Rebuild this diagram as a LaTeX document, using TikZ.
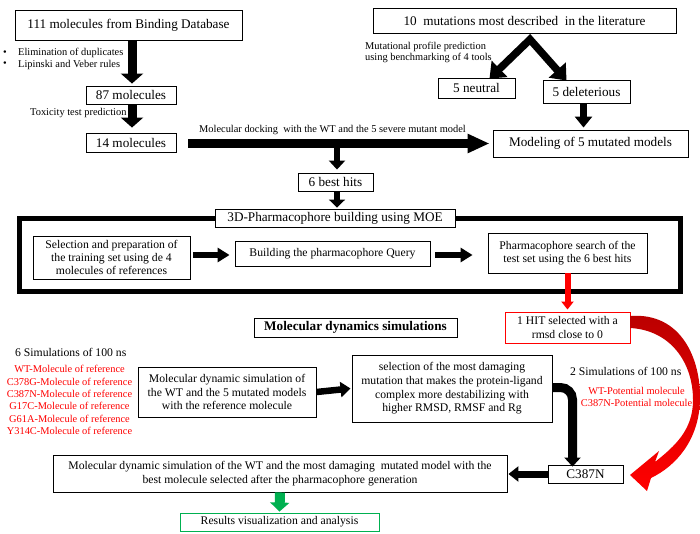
\documentclass[tikz,border=0pt]{standalone}
\usepackage{fontspec}
\setmainfont{Liberation Serif}
\usetikzlibrary{arrows.meta,calc}
\definecolor{myred}{RGB}{255,0,0}
\definecolor{mydarkred}{RGB}{185,0,0}
\definecolor{mygreen}{RGB}{0,176,80}
\newcommand\fbig{\fontsize{13.2pt}{15pt}\selectfont}
\newcommand\fmid{\fontsize{11.7pt}{13.5pt}\selectfont}
\newcommand\fsml{\fontsize{10.4pt}{11.8pt}\selectfont}
\begin{document}
\begin{tikzpicture}[x=1pt,y=-1pt,
  box/.style={draw, line width=0.9pt, fill=white, inner sep=1pt, align=center},
  bigbox/.style={box, font=\fbig},
  midbox/.style={box, font=\fmid},
  arr/.style n args={3}{line width=#1, -{Triangle[width=#2,length=#3]}},
  note/.style={font=\fsml, inner sep=0pt},
]
\useasboundingbox (0,0) rectangle (700,534);

% ---------- top left chain ----------
\node[bigbox, minimum width=227pt, minimum height=30pt] (b111) at (128.5,25) {111 molecules from Binding Database};
\node[bigbox, minimum width=90pt, minimum height=18pt] (b87) at (131,95) {87 molecules};
\node[bigbox, minimum width=90pt, minimum height=19pt] (b14) at (131,142.5) {14 molecules};

\node[note, align=center, anchor=center] (bul) at (5,58.7) {•\\•};
\node[note, align=left, anchor=west] (filt) at (18,58.7) {Elimination of duplicates\\Lipinski and Veber rules};
\node[note, anchor=base west] (tox) at (30,116) {Toxicity test prediction};

\draw[arr={9pt}{22pt}{10pt}] ([xshift=1pt]b87.north |- b111.south) -- ([xshift=1pt,yshift=2pt]b87.north);
\draw[arr={9pt}{22pt}{10pt}] ([xshift=1pt]b87.south) -- ([xshift=1pt,yshift=5pt]b14.north);

% ---------- top right chain ----------
\node[bigbox, minimum width=303pt, minimum height=25pt] (b10) at (524.5,20.5) {10\ \ mutations most described\ \ in the literature};
\node[bigbox, minimum width=77pt, minimum height=20pt] (bneu) at (476.5,88) {5 neutral};
\node[bigbox, minimum width=87pt, minimum height=23pt] (bdel) at (586.5,91.5) {5 deleterious};
\node[bigbox, minimum width=195pt, minimum height=27pt] (bmod) at (590.5,143.5) {Modeling of 5 mutated models};

\node[note, align=left, anchor=west] (mut) at (365,52.5) {Mutational profile prediction\\using benchmarking of 4 tools};

\coordinate (apex) at ([xshift=5.5pt,yshift=-6pt]b10.south);
\draw[line width=7.5pt, line join=miter, {Triangle[width=22pt,length=14pt]}-{Triangle[width=22pt,length=14pt]}]
  ([xshift=13pt,yshift=-1pt]bneu.north) -- (apex) -- ([xshift=-20pt,yshift=-1pt]bdel.north);
\draw[arr={7pt}{17pt}{11pt}] ([xshift=-3pt]bdel.south) -- ([xshift=-7pt,yshift=2pt]bmod.north);

% ---------- docking ----------
\node[note, anchor=base west] (dock) at (199,133) {Molecular docking\ \ with the WT and the 5 severe mutant model};
\draw[arr={9pt}{18pt}{22pt}] ([xshift=12pt]b14.east |- bmod.west) -- ([xshift=-3pt]bmod.west);

\node[bigbox, minimum width=75pt, minimum height=18pt] (b6) at (335.5,182) {6 best hits};
\coordinate (dk) at ([xshift=1.5pt]b6.north |- bmod.west);
\draw[arr={5.5pt}{16pt}{9pt}] (dk) -- ([xshift=1.5pt,yshift=3pt]b6.north);

% ---------- pharmacophore frame ----------
\node[draw, line width=5pt, minimum width=661pt, minimum height=73pt, inner sep=0pt] (frame) at (350,255) {};
\node[bigbox, minimum width=240pt, minimum height=18pt] (btitle) at (335,218) {3D-Pharmacophore building using MOE};
\draw[arr={5.5pt}{16pt}{8pt}] ([xshift=1.5pt]b6.south) -- ([xshift=2pt,yshift=1pt]btitle.north);

\node[midbox, minimum width=157pt, minimum height=43pt, font=\fontsize{11.7pt}{12.6pt}\selectfont] (bsel) at (111.5,257.5) {Selection and preparation of\\the training set using de 4\\molecules of references};
\node[midbox, minimum width=195pt, minimum height=25pt] (bbuild) at (332.5,253.5) {Building the pharmacophore Query};
\node[midbox, minimum width=159pt, minimum height=40pt] (bsearch) at (567.5,253) {Pharmacophore search of the\\test set using the 6 best hits};

\draw[arr={6pt}{14pt}{12pt}] ([xshift=3pt,yshift=-1.5pt]bsel.east |- bbuild.west) -- ([xshift=-5pt,yshift=-1.5pt]bbuild.west);
\draw[arr={6pt}{14pt}{12pt}] ([xshift=5pt,yshift=-1.5pt]bbuild.east) -- ([xshift=-15pt,yshift=-1.5pt]bsearch.west |- bbuild.east);

% ---------- molecular dynamics ----------
\node[box, font=\bfseries\fbig, minimum width=203pt, minimum height=19pt] (bmd) at (355.5,327.5) {Molecular dynamics simulations};
\node[midbox, draw=myred, minimum width=125pt, minimum height=31pt] (bhit) at (567.5,327.5) {1 HIT selected with a\\rmsd close to 0};
\draw[arr={6pt}{12pt}{8pt}, myred] (bsearch.south) -- ([yshift=2pt]bhit.north);

\node[font=\fmid, inner sep=0pt, anchor=base west] (sim6) at (15,356) {6 Simulations of 100 ns};
\node[note, text=myred, align=center, font=\fontsize{10.4pt}{12.4pt}\selectfont] (reflist) at (69.5,400) {WT-Molecule of reference\\C378G-Molecule of reference\\C387N-Molecule of reference\\G17C-Molecule of reference\\G61A-Molecule of reference\\Y314C-Molecule of reference};

\node[midbox, minimum width=178pt, minimum height=50pt, font=\fontsize{11.7pt}{13.8pt}\selectfont] (bmdsim) at (227,392) {Molecular dynamic simulation of\\the WT and the 5 mutated models\\with the reference molecule};
\node[midbox, minimum width=200pt, minimum height=67pt, font=\fontsize{11.7pt}{13.7pt}\selectfont] (bselm) at (452,388.5) {selection of the most damaging\\mutation that makes the protein-ligand\\complex more destabilizing with\\higher RMSD, RMSF and Rg};
\draw[arr={6.5pt}{15pt}{10pt}] (bmdsim.east) -- ([xshift=-1pt]bselm.west);

\node[font=\fmid, inner sep=0pt, anchor=base west] (sim2) at (570,375) {2 Simulations of 100 ns};

\node[bigbox, minimum width=75pt, minimum height=18pt] (bc387) at (585.5,474) {C387N};
\draw[line width=9pt, rounded corners=12pt, -{Triangle[width=16pt,length=9pt]}] ([yshift=1pt]bselm.east) -| ([xshift=-13pt,yshift=-2pt]bc387.north);

\node[midbox, minimum width=454pt, minimum height=37pt, font=\fontsize{11.7pt}{14pt}\selectfont] (bbottom) at (280,473.5) {Molecular dynamic simulation of the WT and the most damaging\ \ mutated model with the\\best molecule selected after the pharmacophore generation};
\draw[arr={7pt}{15pt}{10pt}] (bc387.west) -- ([xshift=1pt]bc387.west -| bbottom.east);

\node[midbox, draw=mygreen, minimum width=199pt, minimum height=18pt] (bres) at (279.5,522) {Results visualization and analysis};
\draw[arr={10pt}{19pt}{9pt}, mygreen] (bbottom.south) -- ([yshift=1pt]bres.north);

% ---------- red curved arrow ----------
\shade[top color=mydarkred, bottom color=myred, middle color=red!88!black]
  (630,316) .. controls (682,312) and (701,360) .. (700,400)
  .. controls (699,440) and (676,466) .. (651,478)
  -- (647,491) -- (630,475) -- (659,451) -- (655,462)
  .. controls (675,446) and (693,430) .. (693,400)
  .. controls (693,362) and (670,330) .. (630,328) -- cycle;

\node[note, text=myred, align=center, font=\fontsize{10.4pt}{12pt}\selectfont] (potlist) at (636.5,397) {WT-Potential molecule\\C387N-Potential molecule};
\end{tikzpicture}
\end{document}
